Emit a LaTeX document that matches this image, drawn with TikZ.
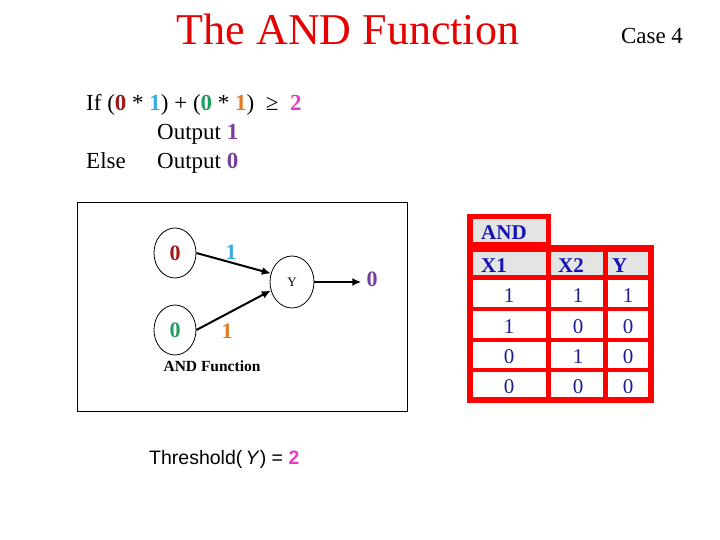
\documentclass[tikz,border=0pt]{standalone}
\usepackage{fontspec}
\setmainfont{Liberation Serif}
\newfontfamily\arialfont{Liberation Sans}
\usetikzlibrary{shapes.geometric,arrows.meta}
\definecolor{cdred}{HTML}{A01818}
\definecolor{ccyan}{HTML}{35ADDF}
\definecolor{cgreen}{HTML}{1E9E5E}
\definecolor{corange}{HTML}{E07B22}
\definecolor{cmag}{HTML}{E43FC8}
\definecolor{cpurple}{HTML}{7A3C9E}
\definecolor{ctitle}{HTML}{E60000}
\definecolor{tred}{HTML}{FF0000}
\definecolor{tgray}{HTML}{E4E4E4}
\definecolor{thead}{HTML}{1414B4}
\definecolor{tdata}{HTML}{1E1E8C}
\newcommand{\fs}[1]{\fontsize{#1}{#1}\selectfont}
\tikzset{
  neuron/.style={ellipse, draw=black, line width=0.8pt, minimum width=42pt, minimum height=50pt, inner sep=0pt},
  conn/.style={line width=2pt, -{Latex[length=9pt,width=8pt]}},
  hcell/.style={fill=tgray},
  dcell/.style={fill=white},
  htext/.style={anchor=base west, text=thead, font=\fs{21}\bfseries, inner sep=0pt},
  dtext/.style={anchor=base, text=tdata, font=\fs{21}, inner sep=0pt},
  txt/.style={anchor=base west, inner sep=0pt, font=\fs{23}}
}
\begin{document}
\begin{tikzpicture}[x=1pt,y=-1pt]
\useasboundingbox[fill=white] (0,0) rectangle (720,540);
% title
\node[anchor=base, text=ctitle, font=\fs{44}, inner sep=0pt] (title) at (348,45) {The AND Function};
\node[anchor=base, font=\fs{23}, inner sep=0pt] (case) at (652,44) {Case 4};
% rule text
\node[txt] (l1) at (86,111) {If (\textcolor{cdred}{\textbf{0}} * \textcolor{ccyan}{\textbf{1}}) + (\textcolor{cgreen}{\textbf{0}} * \textcolor{corange}{\textbf{1}}) \ ≥ \ \textcolor{cmag}{\textbf{2}}};
\node[txt] (l2) at (157,140) {Output \textcolor{cpurple}{\textbf{1}}};
\node[txt] (l3) at (86,169) {Else};
\node[txt] (l4) at (157,169) {Output \textcolor{cpurple}{\textbf{0}}};
% network box
\draw[line width=0.8pt] (77,202) rectangle (407,411);
\node[neuron, font=\fs{22}\bfseries, text=cdred] (n1) at (175,253) {0};
\node[neuron, font=\fs{22}\bfseries, text=cgreen] (n2) at (175,330) {0};
\node[neuron, minimum width=44pt, minimum height=52pt, font=\fs{13}] (y) at (292,282) {Y};
\node[font=\fs{22}\bfseries, text=cpurple, inner sep=1pt] (out) at (372,279) {0};
\node[font=\fs{22}\bfseries, text=ccyan, inner sep=0pt] (w1) at (231,252) {1};
\node[font=\fs{22}\bfseries, text=corange, inner sep=0pt] (w2) at (227,331) {1};
\node[font=\fs{15.5}\bfseries, inner sep=0pt] (andf) at (212,366) {AND Function};
\draw[conn] (n1.east) -- (y.158);
\draw[conn] (n2.east) -- (y.202);
\draw[conn, shorten >=4pt] (y.east) -- (y.east -| out.west);
% threshold
\node[anchor=base west, inner sep=0pt, font=\arialfont\fs{19.5}] (thr) at (149,464) {Threshold(\,\textit{Y}) = \textcolor{cmag}{\textbf{2}}};
% table
\fill[tred] (467,214) rectangle (551,248);
\fill[tred] (467,245) rectangle (654,403);
\fill[hcell] (473,219) rectangle (546,242);
\fill[hcell] (473,252) rectangle (546,275);
\fill[hcell] (551,252) rectangle (603,275);
\fill[hcell] (608,252) rectangle (648,275);
\foreach \ya/\yb in {280/307,311/338,342/368,372/397}{
  \fill[dcell] (473,\ya) rectangle (546,\yb);
  \fill[dcell] (551,\ya) rectangle (603,\yb);
  \fill[dcell] (608,\ya) rectangle (648,\yb);
}
\node[htext] (hand) at (481,240) {AND};
\node[htext] (hx1) at (481,272) {X1};
\node[htext] (hx2) at (558,272) {X2};
\node[htext] (hy) at (612,272) {Y};
\node[dtext] (a1) at (509,302) {1};
\node[dtext] (b1) at (578,302) {1};
\node[dtext] (c1) at (628,302) {1};
\node[dtext] (a2) at (509,333) {1};
\node[dtext] (b2) at (578,333) {0};
\node[dtext] (c2) at (628,333) {0};
\node[dtext] (a3) at (509,363) {0};
\node[dtext] (b3) at (578,363) {1};
\node[dtext] (c3) at (628,363) {0};
\node[dtext] (a4) at (509,393) {0};
\node[dtext] (b4) at (578,393) {0};
\node[dtext] (c4) at (628,393) {0};
\end{tikzpicture}
\end{document}
